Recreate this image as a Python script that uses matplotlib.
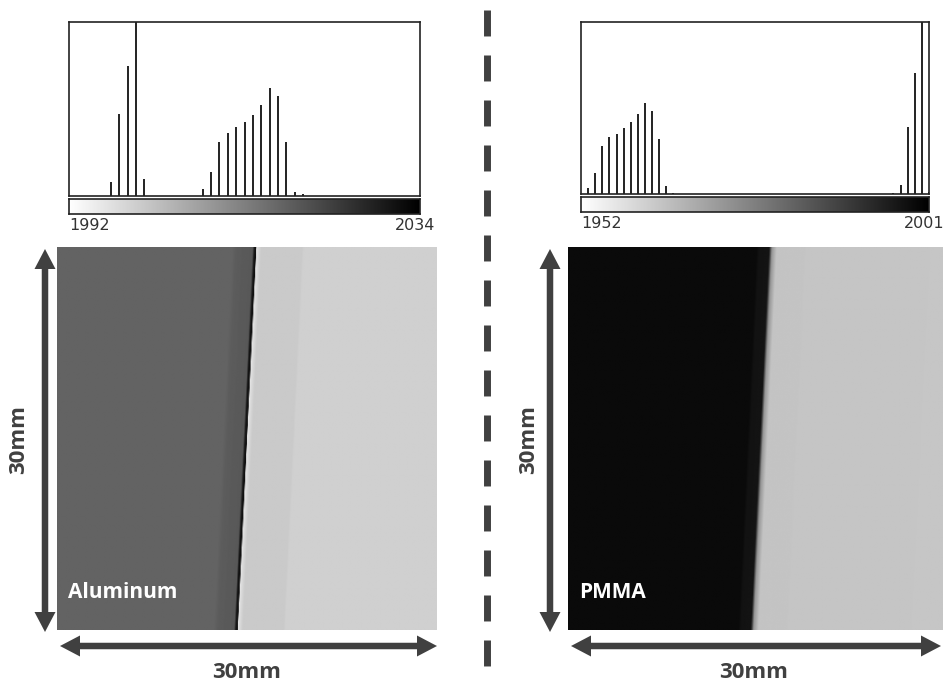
import numpy as np
import matplotlib
matplotlib.use("Agg")
import matplotlib.pyplot as plt
from matplotlib.patches import Polygon

# histogram of the aluminum image
al_values = [1997, 1998, 1999, 2001, 2008, 2009, 2010, 2011, 2012, 2013,
             2014, 2015, 2016, 2017, 2018, 2019, 2020]
al_counts = [41, 247, 390, 50, 21, 71, 161, 189, 206, 222,
             243, 275, 325, 300, 161, 13, 5]
al_range = (1992, 2034)
al_count_top = 523
al_marker = 2000

# histogram of the PMMA image
pm_values = [1953, 1954, 1955, 1956, 1957, 1958, 1959, 1960, 1961, 1962,
             1963, 1964, 1965, 1996, 1997, 1998, 1999, 2001]
pm_counts = [19, 63, 145, 173, 182, 198, 218, 242, 275, 251,
             166, 23, 3, 3, 27, 203, 365, 5]
pm_range = (1952, 2001)
pm_count_top = 518
pm_marker = 2000

# phantom images: edge position (mm) at top and bottom, grey profile across the edge
field_mm = 30
al_edge = (15.76, 14.29)
al_prof_mm = [-30, -1.9, -1.6, -0.3, -0.18, -0.04, 0.0, 0.22, 0.38, 3.6, 3.75, 30]
al_prof_gray = [99, 99, 92, 88, 22, 15, 228, 212, 202, 202, 208, 208]
pm_edge = (15.95, 14.50)
pm_prof_mm = [-30, -1.1, -0.9, -0.1, 0.12, 0.5, 30]
pm_prof_gray = [10, 10, 18, 20, 150, 196, 199]

W, H = 943, 688
fig = plt.figure(figsize=(W / 100, H / 100), dpi=100)
dark = "#404040"


def px_axes(x0, y0, x1, y1):
    return fig.add_axes([x0 / W, 1 - y1 / H, (x1 - x0) / W, (y1 - y0) / H])


def phantom(edge, prof_mm, prof_gray, n=420):
    x = np.linspace(0, field_mm, n)
    X, Y = np.meshgrid(x, x)
    e = edge[0] + (edge[1] - edge[0]) * Y / field_mm
    return np.interp(X - e, prof_mm, prof_gray)


def histogram(box, values, counts, xr, top, marker):
    x0, y0, x1, y1 = box
    ax = px_axes(x0, y0, x1, y1)
    ax.vlines(values, 0, counts, color="#222222", lw=1.4)
    ax.axvline(marker, color="#222222", lw=1.4)
    ax.set_xlim(*xr)
    ax.set_ylim(0, top)
    ax.set_xticks([])
    ax.set_yticks([])
    for s in ax.spines.values():
        s.set_linewidth(1.2)
        s.set_color("#222222")
    cb = px_axes(x0, y1 + 3, x1, y1 + 18)
    cb.imshow(np.linspace(0, 1, 256)[None, :], cmap="gray_r", aspect="auto",
              extent=[xr[0], xr[1], 0, 1])
    cb.set_xticks([])
    cb.set_yticks([])
    for s in cb.spines.values():
        s.set_linewidth(1.2)
        s.set_color("#222222")
    cb.text(0, -0.3, str(xr[0]), transform=cb.transAxes, ha="left", va="top",
            fontsize=11.5, color="#333333", family="DejaVu Sans")
    cb.text(1 - 25 / (x1 - x0), -0.3, str(xr[1]), transform=cb.transAxes,
            ha="left", va="top", fontsize=11.5, color="#333333",
            family="DejaVu Sans")


def image(box, data, label):
    ax = px_axes(*box)
    ax.imshow(data, cmap="gray", vmin=0, vmax=255, aspect="auto",
              extent=[0, field_mm, field_mm, 0], interpolation="bilinear")
    ax.axis("off")
    ax.text(11 / (box[2] - box[0]), 1 - 346 / (box[3] - box[1]), label,
            transform=ax.transAxes, ha="left", va="center", color="white",
            fontsize=15, fontweight="bold", family="Open Sans")


histogram((69, 22, 420, 196), al_values, al_counts, al_range, al_count_top, al_marker)
histogram((581, 22, 929, 194), pm_values, pm_counts, pm_range, pm_count_top, pm_marker)
image((57, 247, 437, 630), phantom(al_edge, al_prof_mm, al_prof_gray), "Aluminum")
image((568, 247, 948, 630), phantom(pm_edge, pm_prof_mm, pm_prof_gray), "PMMA")

# overlay in pixel coordinates for arrows, labels and divider
ov = fig.add_axes([0, 0, 1, 1])
ov.set_xlim(0, W)
ov.set_ylim(H, 0)
ov.axis("off")
ov.patch.set_alpha(0)

ov.plot([487, 487], [10, 666], color=dark, lw=5, dashes=(3.74, 2.74),
        solid_capstyle="butt", dash_capstyle="butt")


def arrow(p0, p1, shaft=6.5, head_w=21, head_l=20):
    # double headed arrow outline as one polygon
    a, b = np.array(p0, float), np.array(p1, float)
    u = (b - a) / np.linalg.norm(b - a)
    n = np.array([-u[1], u[0]])
    s, h = shaft / 2, head_w / 2
    pts = [a, a + u * head_l + n * h, a + u * head_l + n * s,
           b - u * head_l + n * s, b - u * head_l + n * h, b,
           b - u * head_l - n * h, b - u * head_l - n * s,
           a + u * head_l - n * s, a + u * head_l - n * h]
    ov.add_patch(Polygon(pts, closed=True, color=dark, lw=0))


for x_img, x_vert, x_end in [(57, 45, 437), (568, 550, 941)]:
    arrow((x_vert, 249), (x_vert, 632))
    arrow((x_img + 3, 646), (x_end, 646))

for xc in (247, 754):
    ov.text(xc, 673, "30mm", ha="center", va="center", fontsize=16,
            fontweight="bold", color=dark, family="Open Sans")
for xc in (19, 529):
    ov.text(xc, 440, "30mm", ha="center", va="center", fontsize=16,
            fontweight="bold", color=dark, family="Open Sans", rotation=90)

fig.savefig("out.png", dpi=100)
